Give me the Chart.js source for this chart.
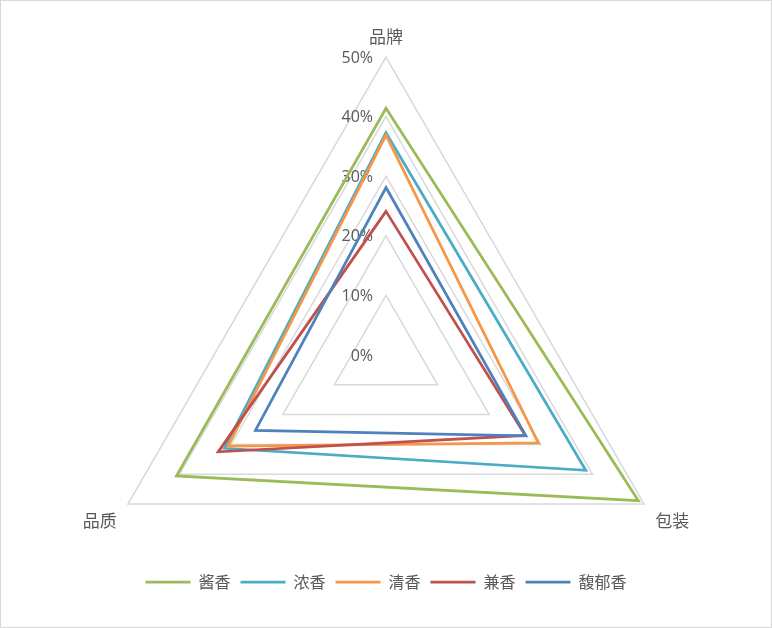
<!DOCTYPE html>
<html>
<head>
<meta charset="utf-8">
<script src="https://cdn.jsdelivr.net/npm/chart.js@4.4.1/dist/chart.umd.min.js"></script>
<style>
  html, body { margin: 0; padding: 0; background: #fff; }
  #frame { width: 772px; height: 628px; box-sizing: border-box; border: 1px solid #d9d9d9; }
</style>
</head>
<body>
<div id="frame"><canvas id="chart"></canvas></div>
<script>
// axes (clockwise from top) and series, values in %
const axes = ['品牌', '包装', '品质'];
const seriesNames = ['酱香', '浓香', '清香', '兼香', '馥郁香'];
const jiangXiang = [41.4, 48.9, 40.6];
const nongXiang = [37.3, 38.7, 31.3];
const qingXiang = [36.9, 29.5, 30.6];
const jianXiang = [24.1, 27.0, 32.5];
const fuYuXiang = [28.1, 27.1, 25.3];
const tickValues = [0, 10, 20, 30, 40, 50];

const seriesValues = [jiangXiang, nongXiang, qingXiang, jianXiang, fuYuXiang];
const colors = ['#9BBB59', '#4BACC6', '#F79646', '#C0504D', '#4F81BD'];
const cjk = '"Noto Sans CJK SC", "Noto Sans", sans-serif';

// percent labels sit to the left of the top spoke, like Excel does
const tickLabels = {
  id: 'tickLabels',
  beforeDatasetsDraw(chart) {
    const scale = chart.scales.r;
    const ctx = chart.ctx;
    ctx.save();
    ctx.font = '16px "Open Sans", sans-serif';
    ctx.fillStyle = '#595959';
    ctx.textAlign = 'right';
    ctx.textBaseline = 'middle';
    tickValues.forEach((v) => {
      const p = scale.getPointPositionForValue(0, v);
      ctx.fillText(v + '%', p.x - 13, p.y + 1);
    });
    ctx.restore();
  }
};

new Chart(document.getElementById('chart'), {
  type: 'radar',
  data: {
    labels: axes,
    datasets: seriesNames.map((name, i) => ({
      label: name,
      data: seriesValues[i],
      borderColor: colors[i],
      backgroundColor: colors[i],
      borderWidth: 2.75,
      borderJoinStyle: 'miter',
      fill: false,
      pointRadius: 0,
      pointHoverRadius: 0,
      order: seriesNames.length - i
    }))
  },
  options: {
    responsive: true,
    maintainAspectRatio: false,
    animation: false,
    layout: { padding: { bottom: 27 } },
    plugins: {
      tooltip: { enabled: false },
      legend: {
        position: 'bottom',
        labels: {
          usePointStyle: true,
          pointStyle: 'line',
          pointStyleWidth: 45,
          padding: 10,
          color: '#595959',
          font: { family: cjk, size: 16 },
          sort: (a, b) => a.datasetIndex - b.datasetIndex
        }
      }
    },
    scales: {
      r: {
        min: 0,
        max: 50,
        ticks: { display: false, stepSize: 10 },
        grid: { color: '#D9D9D9', lineWidth: 1.5 },
        angleLines: { display: false },
        pointLabels: {
          color: '#595959',
          padding: (c) => (c.index === 0 ? 10 : 13),
          font: { family: cjk, size: 17 }
        },
        // Excel fits the triangle, not the circle: place the radar by hand
        afterFit(scale) {
          scale.xCenter = Math.round((scale.left + scale.right) / 2);
          scale.yCenter = 354;
          scale.drawingArea = 298;
          scale.fit();
        }
      }
    }
  },
  plugins: [tickLabels]
});
</script>
</body>
</html>
